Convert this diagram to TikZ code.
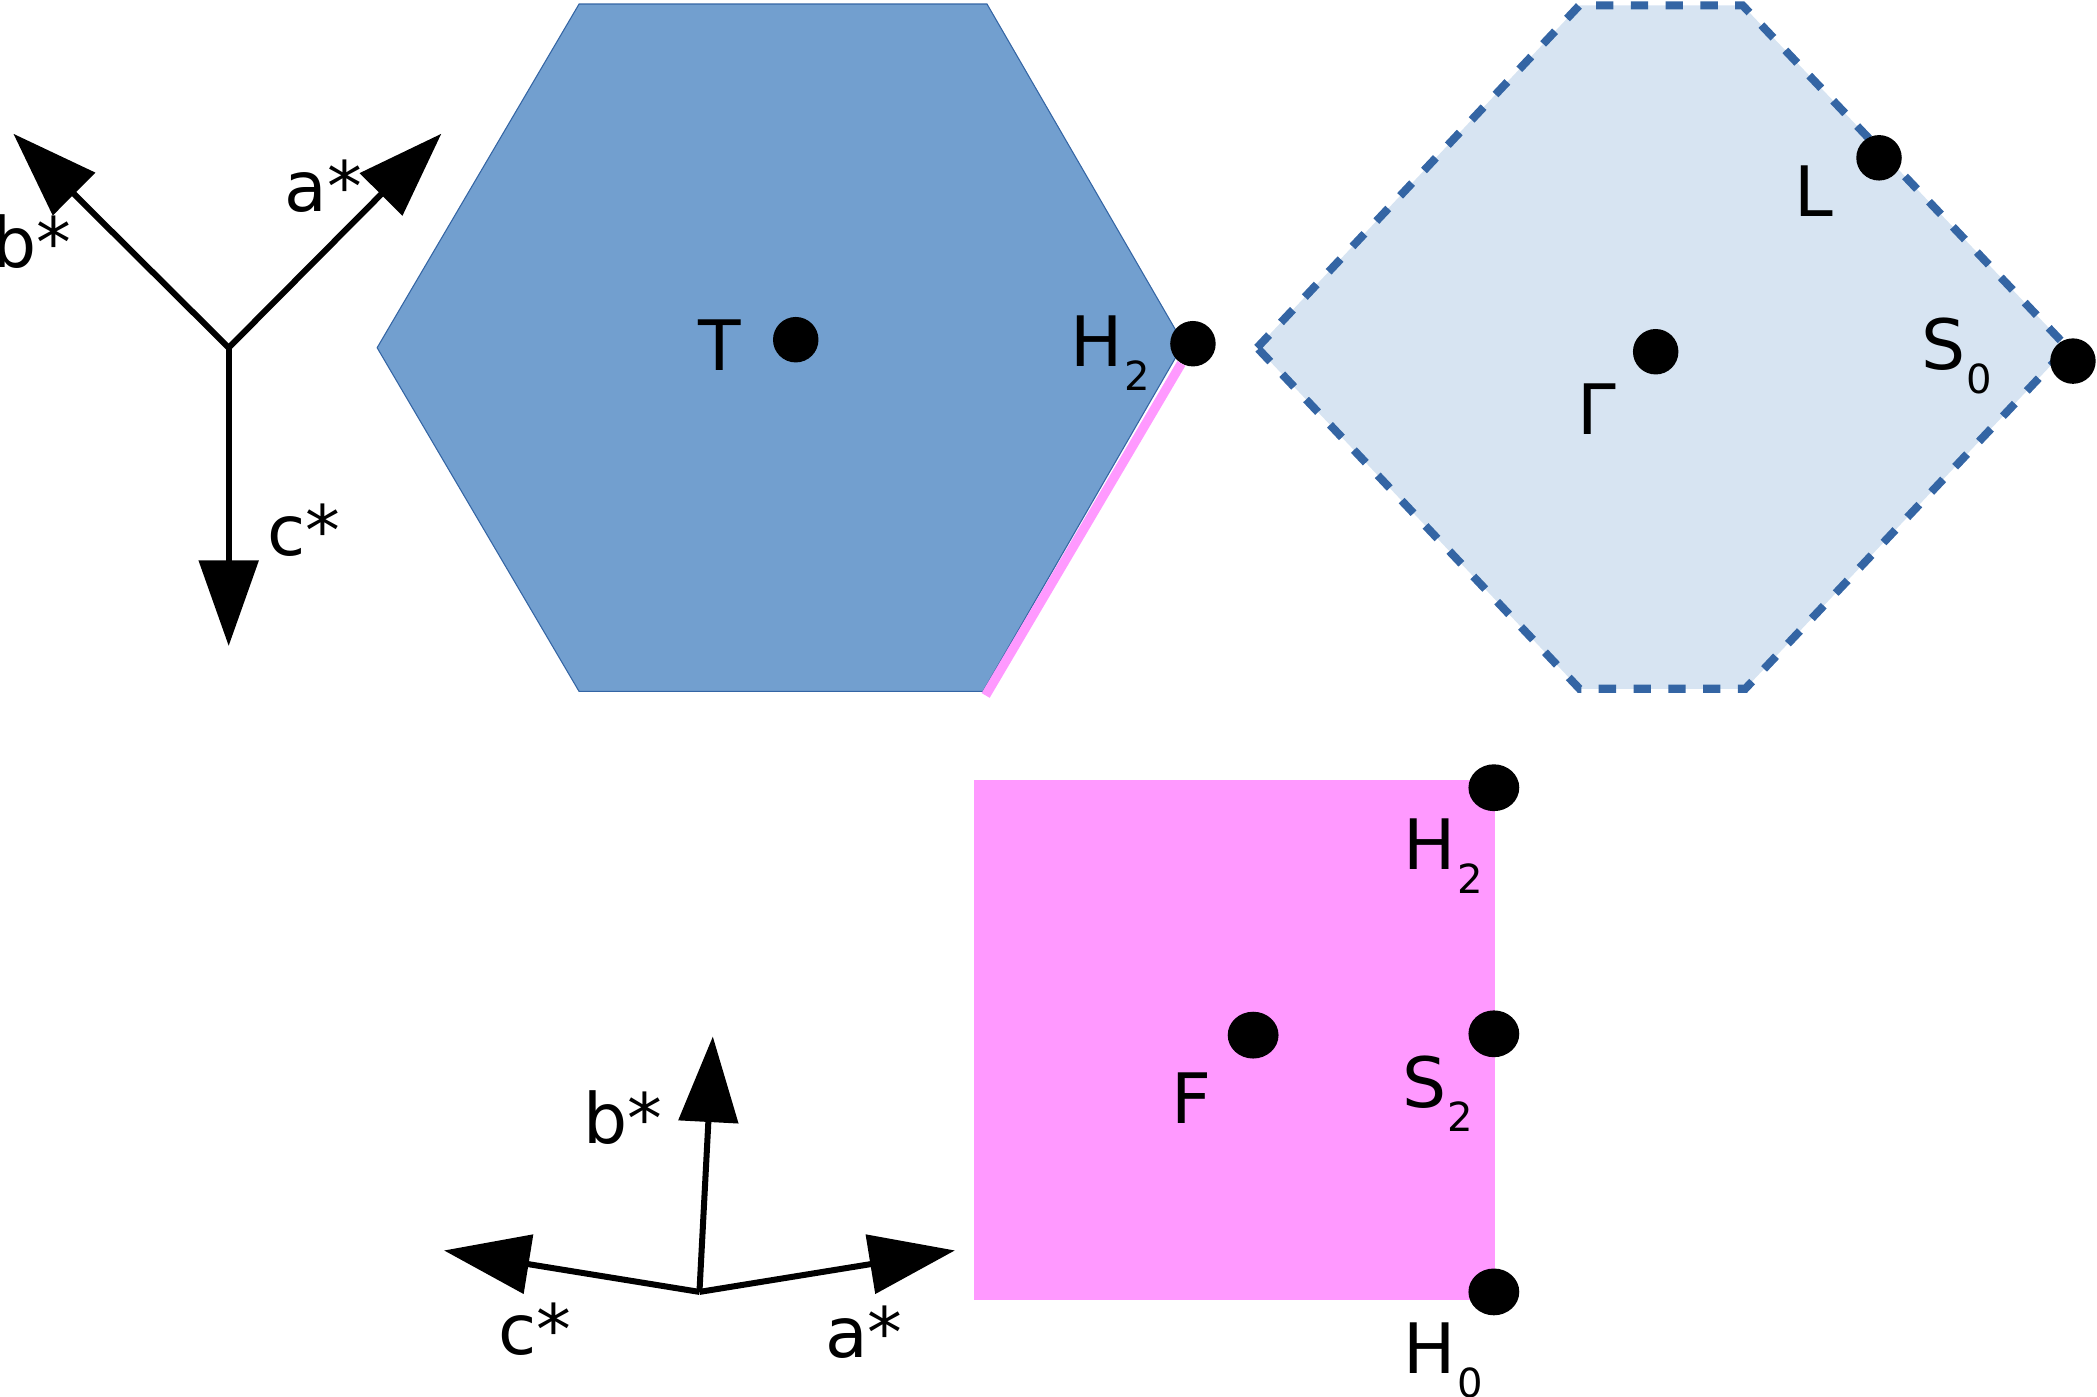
\documentclass[tikz,border=0pt]{standalone}
\usepackage{fontspec}
\setmainfont{DejaVu Sans}
\usetikzlibrary{arrows.meta,shapes.geometric}
\definecolor{hexblue}{RGB}{114,159,207}
\definecolor{edgeblue}{RGB}{52,101,164}
\definecolor{paleblue}{RGB}{215,228,242}
\definecolor{pinkfill}{RGB}{255,153,255}
\newcommand{\sublab}[2]{#1\kern1pt\raisebox{-18pt}{\fontsize{30}{30}\selectfont #2}}
\tikzset{
  lab/.style={inner sep=0pt, anchor=base, font=\fontsize{52}{56}\selectfont},
  dotc/.style={circle, fill=black, minimum size=34pt, inner sep=0pt},
  dote/.style={ellipse, fill=black, minimum width=38pt, minimum height=35pt, inner sep=0pt},
  axis/.style={line width=4.5pt, -{Triangle[length=64pt,width=44pt]}},
  pinkline/.style={draw=pinkfill, line width=7pt},
}
\begin{document}
\begin{tikzpicture}[x=1pt,y=-1pt]
\useasboundingbox (0,0) rectangle (1568,1044);
% blue hexagon
\fill[hexblue, draw=edgeblue, line width=0.8pt] (282,260) -- (433,3) -- (738,3) -- (885,257) -- (735,517) -- (433,517) -- cycle;
% dashed pale hexagon
\filldraw[fill=paleblue, draw=edgeblue, line width=6pt, dash pattern=on 13pt off 13pt]
  (940,260) -- (1181,4) -- (1303,4) -- (1546,260) -- (1305,515) -- (1181,515) -- cycle;
% pink square
\fill[pinkfill] (728,583) rectangle (1118,972);
% dots
\node[dotc] (T) at (595,254) {};
\node[dotc] (H2t) at (892,257) {};
\coordinate (hexbr) at (737,520);
\draw[pinkline] (H2t) -- (hexbr);
\node[dotc] (L) at (1405,118) {};
\node[dotc] (G) at (1238,263) {};
\node[dotc] (S0) at (1550,270) {};
\node[dote] (H2b) at (1117,589) {};
\node[dote] (S2) at (1117,773) {};
\node[dote] (H0) at (1117,966) {};
\node[dote] (F) at (937,774) {};
% labels
\node[lab] (lT) at (538,277) {T};
\node[lab] (lH2t) at (830,274) {\sublab{H}{2}};
\node[lab] (lL) at (1356,162) {L};
\node[lab] (lG) at (1194,325) {Γ};
\node[lab] (lS0) at (1463,276) {\sublab{S}{0}};
\node[lab] (lH2b) at (1079,650) {\sublab{H}{2}};
\node[lab] (lF) at (891,840) {F};
\node[lab] (lS2) at (1075,828) {\sublab{S}{2}};
\node[lab] (lH0) at (1079,1027) {\sublab{H}{0}};
% top-left axes
\coordinate (o1) at (171,260);
\coordinate (b1) at (10,100);
\coordinate (a1) at (330,100);
\coordinate (c1) at (171,483);
\draw[axis] (o1) -- (b1);
\draw[axis] (o1) -- (a1);
\draw[axis] (o1) -- (c1);
\node[lab] (lb1) at (24,200) {b*};
\node[lab] (la1) at (242,158) {a*};
\node[lab] (lc1) at (227,415) {c*};
% bottom axes
\coordinate (o2) at (523,966);
\coordinate (b2) at (533,775);
\coordinate (c2) at (332,935);
\coordinate (a2) at (714,935);
\draw[axis] (o2) -- (b2);
\draw[axis] (o2) -- (c2);
\draw[axis] (o2) -- (a2);
\node[lab] (lb2) at (466,855) {b*};
\node[lab] (lc2) at (400,1013) {c*};
\node[lab] (la2) at (646,1015) {a*};
\end{tikzpicture}
\end{document}
